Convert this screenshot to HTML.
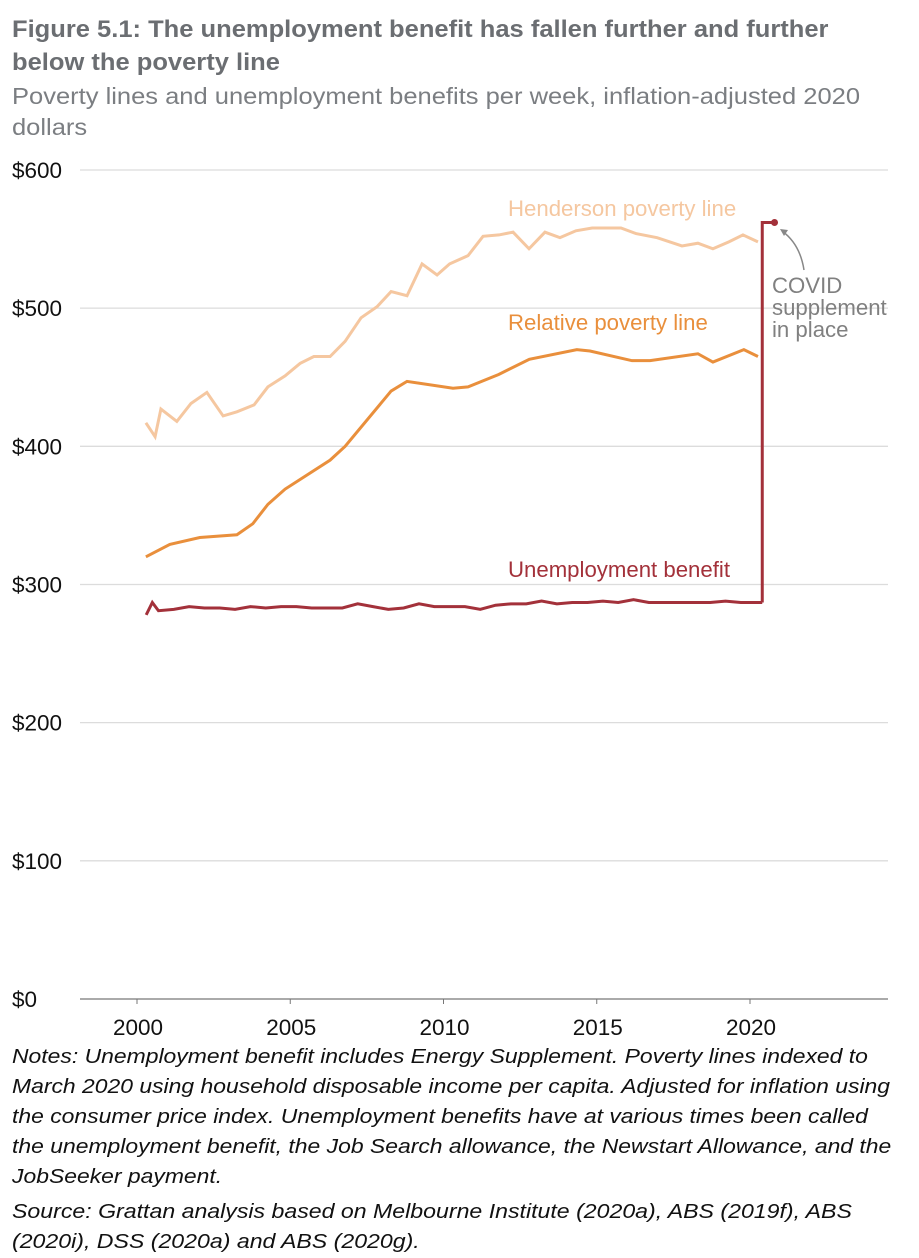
<!DOCTYPE html>
<html><head><meta charset="utf-8"><style>
body{margin:0;background:#fff;width:919px;height:1258px;overflow:hidden;font-family:"Liberation Sans",Arial,sans-serif}
.t{position:absolute;left:12px;top:13px;font-size:24.3px;font-weight:bold;color:#6b6e72;line-height:33px;white-space:nowrap;transform:scaleX(1.05);transform-origin:0 0}
.s{position:absolute;left:12px;top:81px;font-size:23.3px;color:#7b7e82;line-height:31px;white-space:nowrap;transform:scaleX(1.095);transform-origin:0 0}
.n{position:absolute;left:12px;top:1042px;font-size:20.2px;font-style:italic;color:#111;line-height:30px;white-space:nowrap;transform:scaleX(1.135);transform-origin:0 0}
.src{position:absolute;left:12px;top:1197px;font-size:20.2px;font-style:italic;color:#111;line-height:30px;white-space:nowrap;transform:scaleX(1.145);transform-origin:0 0}
</style></head><body>
<div class="t">Figure 5.1: The unemployment benefit has fallen further and further<br>below the poverty line</div>
<div class="s">Poverty lines and unemployment benefits per week, inflation-adjusted 2020<br>dollars</div>
<svg id="c" width="919" height="1258" style="position:absolute;left:0;top:0"></svg>
<div class="n">Notes: Unemployment benefit includes Energy Supplement. Poverty lines indexed to<br>March 2020 using household disposable income per capita. Adjusted for inflation using<br>the consumer price index. Unemployment benefits have at various times been called<br>the unemployment benefit, the Job Search allowance, the Newstart Allowance, and the<br>JobSeeker payment.</div>
<div class="src">Source: Grattan analysis based on Melbourne Institute (2020a), ABS (2019f), ABS<br>(2020i), DSS (2020a) and ABS (2020g).</div>
<script>
const yTicks=[0,100,200,300,400,500,600];
const xTicks=[2000,2005,2010,2015,2020];
const hendYears=[2000.29,2000.59,2000.78,2001.3,2001.76,2002.28,2002.81,2003.26,2003.82,2004.27,2004.83,2005.32,2005.77,2006.3,2006.79,2007.31,2007.83,2008.29,2008.81,2009.3,2009.79,2010.2,2010.8,2011.29,2011.81,2012.27,2012.79,2013.31,2013.8,2014.32,2014.85,2015.79,2016.28,2016.97,2017.78,2018.3,2018.79,2019.31,2019.77,2020.26];
const hendValues=[417,407,427,418,431,439,422,425,430,443,451,460,465,465,476,493,501,512,509,532,524,532,538,552,553,555,543,555,551,556,558,558,554,551,545,547,543,548,553,548];
const relYears=[2000.29,2001.07,2002.05,2003.26,2003.78,2004.27,2004.83,2006.3,2006.79,2008.29,2008.81,2010.31,2010.8,2011.8,2012.8,2014.35,2014.78,2016.15,2016.74,2018.3,2018.79,2019.8,2020.26];
const relValues=[320,329,334,336,344,358,369,390,400,440,447,442,443,452,463,470,469,462,462,467,461,470,465];
const unYears=[2000.3,2000.5,2000.7,2001.2,2001.7,2002.2,2002.7,2003.2,2003.7,2004.2,2004.7,2005.2,2005.7,2006.2,2006.7,2007.2,2007.7,2008.2,2008.7,2009.2,2009.7,2010.2,2010.7,2011.2,2011.7,2012.2,2012.7,2013.2,2013.7,2014.2,2014.7,2015.2,2015.7,2016.2,2016.7,2017.2,2017.7,2018.2,2018.7,2019.2,2019.7,2020.4];
const unValues=[278,287,281,282,284,283,283,282,284,283,284,284,283,283,283,286,284,282,283,286,284,284,284,282,285,286,286,288,286,287,287,288,287,289,287,287,287,287,287,288,287,287];
const covidYear=[2020.4,2020.4,2020.8];
const covidValues=[287,562,562];
const NS='http://www.w3.org/2000/svg';
const svg=document.getElementById('c');
const X=y=>137+(y-2000)*30.65;
const Y=v=>999-v*1.3817;
function mk(t,a){const e=document.createElementNS(NS,t);for(const k in a)e.setAttribute(k,a[k]);svg.appendChild(e);return e;}
yTicks.forEach(v=>{
 if(v>0){const g=mk('line',{x1:80,x2:888,y1:Y(v),y2:Y(v),stroke:'#dcdcdc','stroke-width':1.3});
 
 }
 const t=mk('text',{x:12,y:Y(v)+8,'font-size':22.5,fill:'#111'});t.textContent='$'+v;
 
 
});
const ax=mk('line',{x1:80,x2:888,y1:999,y2:999,stroke:'#777','stroke-width':1.3});


xTicks.forEach(v=>{
 const t=mk('text',{x:X(v)+1,y:1035,'font-size':22.5,fill:'#111','text-anchor':'middle'});t.textContent=v;
 
 
 mk('line',{x1:X(v),x2:X(v),y1:999,y2:1004,stroke:'#777'});
});
function line(xs,vs,col,name){
 const p=mk('polyline',{points:xs.map((x,i)=>X(x)+','+Y(vs[i])).join(' '),fill:'none',stroke:col,'stroke-width':3,'stroke-linejoin':'miter'});
 
 
}
line(hendYears,hendValues,'#f5c7a0','henderson-poverty-line');
line(relYears,relValues,'#e98f3c','relative-poverty-line');
line(unYears,unValues,'#a3313a','unemployment-benefit-line');
line(covidYear,covidValues,'#a3313a','covid-supplement-line');
const d=mk('circle',{cx:X(covidYear[2]),cy:Y(covidValues[2]),r:3.5,fill:'#a3313a'});


function lab(x,y,txt,col,name){const t=mk('text',{x:x,y:y,'font-size':22.2,fill:col});t.textContent=txt;
 
 }
lab(508,216,'Henderson poverty line','#f5c7a0','henderson-label');
lab(508,330,'Relative poverty line','#e98f3c','relative-label');
lab(508,577,'Unemployment benefit','#a3313a','unemployment-label');
lab(772,293,'COVID','#808080','covid-label-1');
lab(772,315,'supplement','#808080','covid-label-2');
lab(772,337,'in place','#808080','covid-label-3');
const ar=mk('path',{d:'M804,270 Q800,244 782,231',fill:'none',stroke:'#888','stroke-width':1.5});


mk('path',{d:'M780,229 l8,1 l-4,6 z',fill:'#888'});
</script>
</body></html>
